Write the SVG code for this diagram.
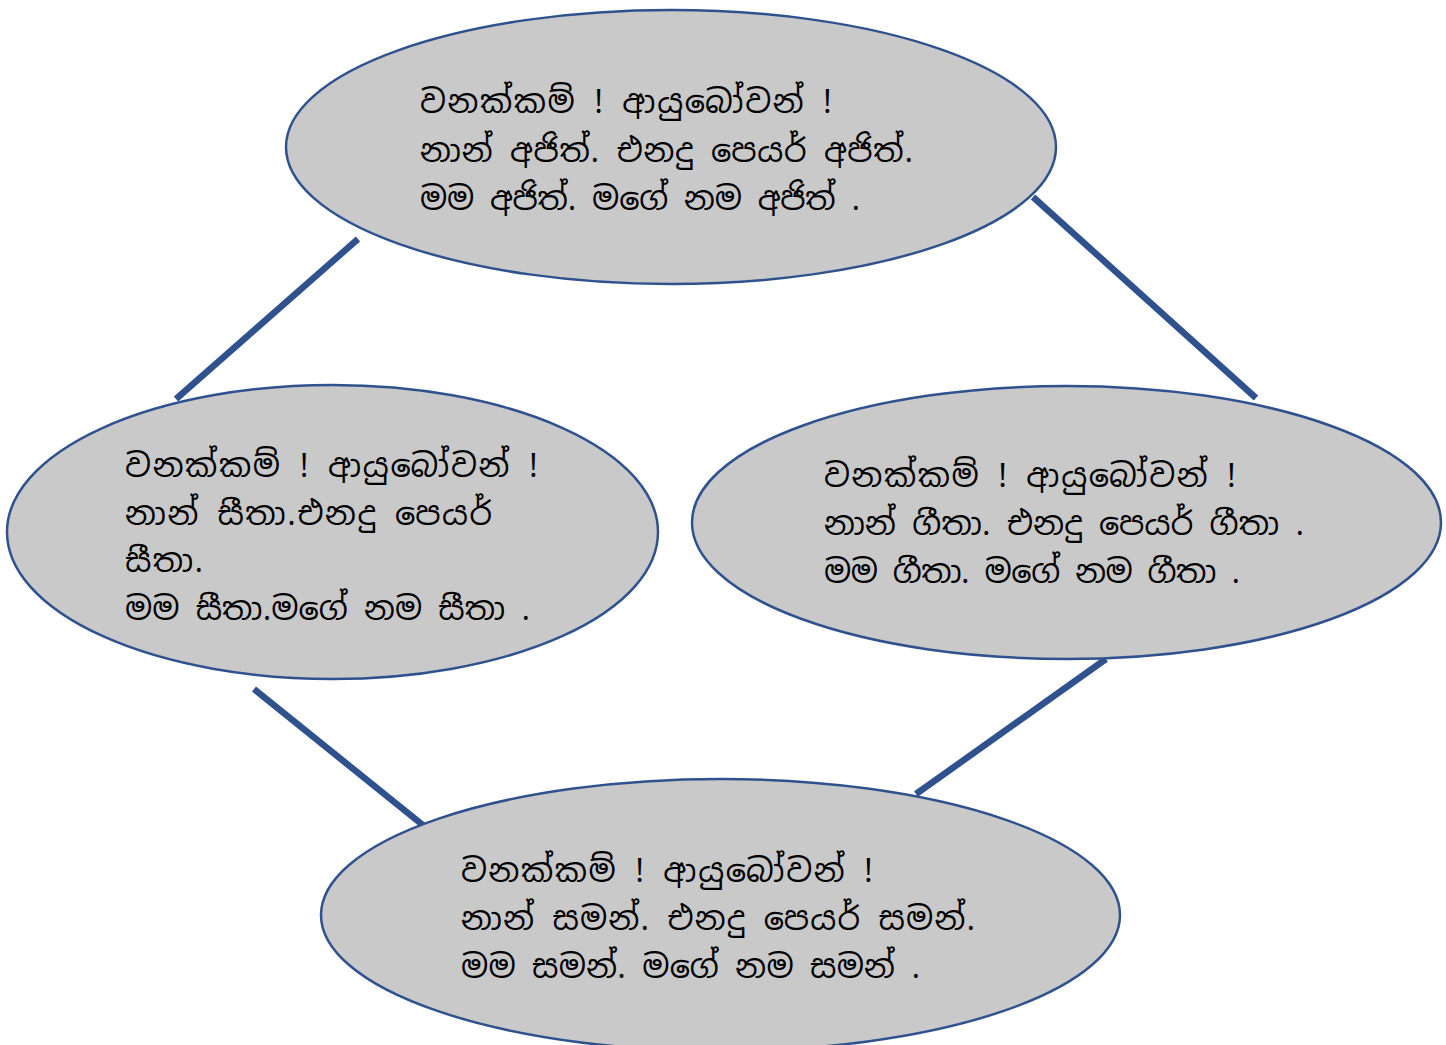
<svg xmlns="http://www.w3.org/2000/svg" width="1446" height="1045" viewBox="0 0 1446 1045">
<style>
.node{fill:#c9c9c9;stroke:#2f528f;stroke-width:2.5}
.conn{stroke:#2f528f;stroke-width:6.5;fill:none}
.t{font-family:"Noto Sans Sinhala","Iskoola Pota","Noto Sans","DejaVu Sans",sans-serif;font-size:32px;fill:#000}
</style>
<rect width="1446" height="1045" fill="#fff"/>
<g id="connectors">
<line class="conn" x1="358" y1="239" x2="176" y2="399"/>
<line class="conn" x1="1033" y1="197" x2="1256" y2="398"/>
<line class="conn" x1="254" y1="689" x2="424" y2="826"/>
<line class="conn" x1="1106" y1="659" x2="916" y2="794"/>
</g>
<g id="node-ajith">
<ellipse class="node" cx="671" cy="147" rx="385" ry="137"/>
<text class="t" x="420" y="113" textLength="412" lengthAdjust="spacing">වනක්කම් ! ආයුබෝවන් !</text>
<text class="t" x="420" y="162" textLength="493" lengthAdjust="spacing">නාන් අජිත්. එනදු පෙයර් අජිත්.</text>
<text class="t" x="420" y="210" textLength="440" lengthAdjust="spacing">මම අජිත්. මගේ නම අජිත් .</text>
</g>
<g id="node-sita">
<ellipse class="node" cx="332.5" cy="532" rx="325.5" ry="147"/>
<text class="t" x="125" y="477" textLength="413" lengthAdjust="spacing">වනක්කම් ! ආයුබෝවන් !</text>
<text class="t" x="125" y="525" textLength="367" lengthAdjust="spacing">නාන් සීතා.එනදු පෙයර්</text>
<text class="t" x="125" y="572" textLength="78" lengthAdjust="spacing">සීතා.</text>
<text class="t" x="125" y="620" textLength="405" lengthAdjust="spacing">මම සීතා.මගේ නම සීතා .</text>
</g>
<g id="node-gita">
<ellipse class="node" cx="1066.5" cy="522.5" rx="374.5" ry="136.5"/>
<text class="t" x="824" y="487" textLength="412" lengthAdjust="spacing">වනක්කම් ! ආයුබෝවන් !</text>
<text class="t" x="824" y="535" textLength="480" lengthAdjust="spacing">නාන් ගීතා. එනදු පෙයර් ගීතා .</text>
<text class="t" x="824" y="583" textLength="416" lengthAdjust="spacing">මම ගීතා. මගේ නම ගීතා .</text>
</g>
<g id="node-saman">
<ellipse class="node" cx="720.5" cy="915" rx="399.5" ry="136"/>
<text class="t" x="461" y="882" textLength="412" lengthAdjust="spacing">වනක්කම් ! ආයුබෝවන් !</text>
<text class="t" x="461" y="930" textLength="514" lengthAdjust="spacing">නාන් සමන්. එනදු පෙයර් සමන්.</text>
<text class="t" x="461" y="978" textLength="459" lengthAdjust="spacing">මම සමන්. මගේ නම සමන් .</text>
</g>
</svg>
